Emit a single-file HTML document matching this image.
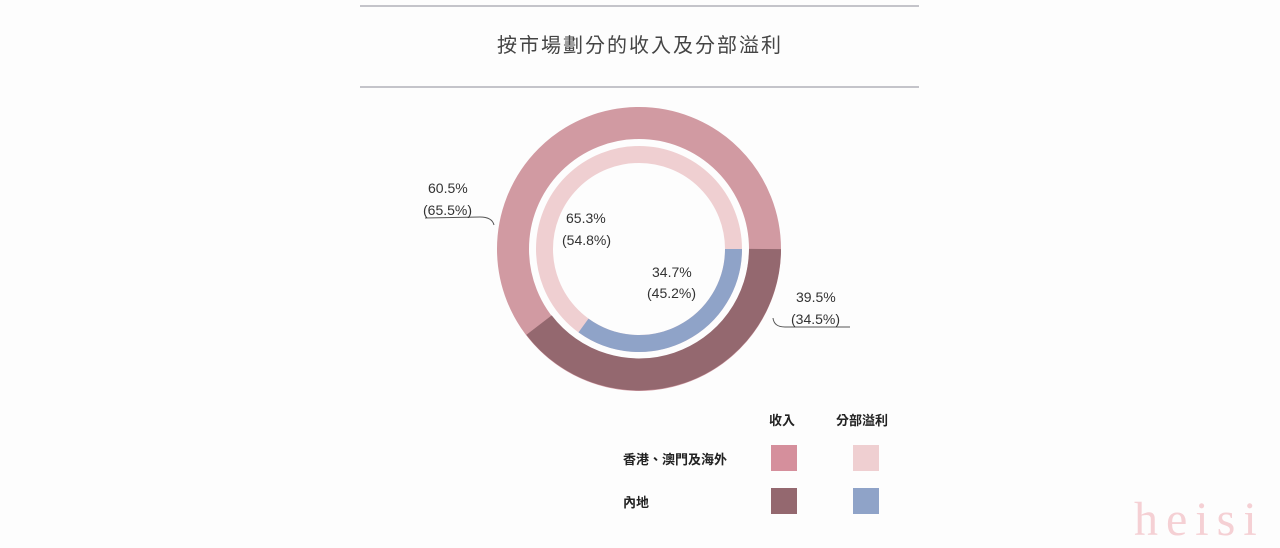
<!DOCTYPE html>
<html><head><meta charset="utf-8"><style>
body{margin:0;background:#fdfdfd;width:1280px;height:548px;overflow:hidden;font-family:"Liberation Sans","Noto Sans CJK TC",sans-serif;}
</style></head><body>
<svg width="1280" height="548" xmlns="http://www.w3.org/2000/svg" style="position:absolute;left:0;top:0">
<line x1="360" y1="6" x2="919" y2="6" stroke="#8a8a96" stroke-width="1"/>
<line x1="360" y1="87" x2="919" y2="87" stroke="#8a8a96" stroke-width="1"/>
<text x="640" y="52" text-anchor="middle" font-size="20" fill="#444" letter-spacing="2" font-family="Liberation Sans,'Noto Sans CJK TC',sans-serif">按市場劃分的收入及分部溢利</text>
<g fill="none">
<circle cx="639" cy="249" r="126" stroke="#d19aa2" stroke-width="32"/>
<path d="M765 249 A126 126 0 0 1 539.0 325.1" stroke="#94686f" stroke-width="32"/>
<circle cx="639" cy="249" r="94.5" stroke="#efcfd1" stroke-width="17"/>
<path d="M733.5 249 A94.5 94.5 0 0 1 583.5 325.5" stroke="#8fa3c8" stroke-width="17"/>
<path d="M425 218 L480 217 Q492 217 494 225" stroke="#555" stroke-width="1"/>
<path d="M850 327 L785 327 Q774 327 773 318" stroke="#555" stroke-width="1"/>
</g>
<g font-size="14" fill="#333">
<text x="428" y="193">60.5%</text>
<text x="423" y="215">(65.5%)</text>
<text x="566" y="223">65.3%</text>
<text x="562" y="245">(54.8%)</text>
<text x="652" y="277">34.7%</text>
<text x="647" y="298">(45.2%)</text>
<text x="796" y="302">39.5%</text>
<text x="791" y="324">(34.5%)</text>
</g>
<g font-size="13" fill="#222" font-weight="bold" font-family="'Noto Sans CJK TC',sans-serif">
<text x="769" y="425">收入</text>
<text x="836" y="425">分部溢利</text>
<text x="623" y="464">香港、澳門及海外</text>
<text x="623" y="507">內地</text>
</g>
<rect x="771" y="445" width="26" height="26" fill="#d58f9c"/>
<rect x="853" y="445" width="26" height="26" fill="#efcfd1"/>
<rect x="771" y="488" width="26" height="26" fill="#94686f"/>
<rect x="853" y="488" width="26" height="26" fill="#8fa3c8"/>
<text x="1134" y="535" font-size="48" fill="#f5d0d4" letter-spacing="8" font-family="Liberation Serif,serif">heisi</text>
</svg>
</body></html>
